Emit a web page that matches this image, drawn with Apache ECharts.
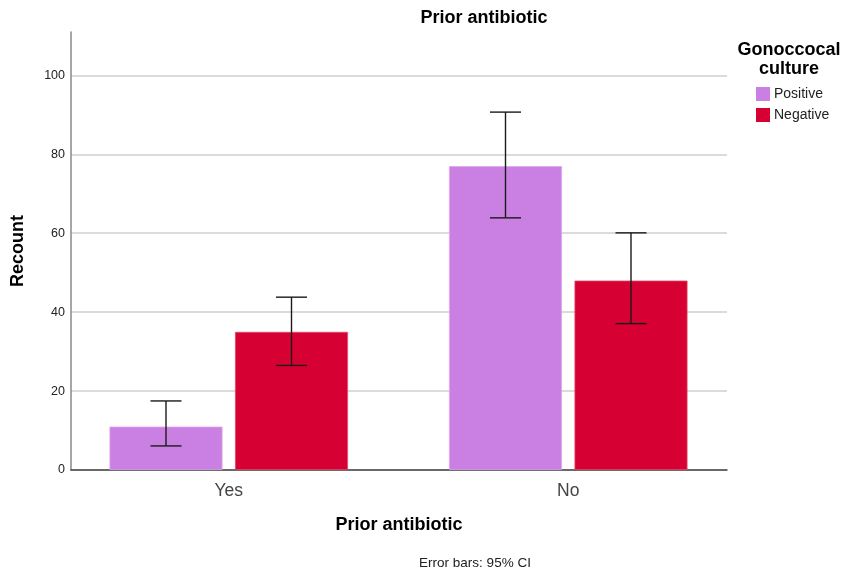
<!DOCTYPE html>
<html>
<head>
<meta charset="utf-8">
<script src="https://cdn.jsdelivr.net/npm/echarts@6/dist/echarts.min.js"></script>
<style>
  html, body { margin: 0; padding: 0; background: #fff; }
  #chart { width: 843px; height: 572px; }
</style>
</head>
<body>
<div id="chart"></div>
<script>
// Counts by prior antibiotic use and gonococcal culture result, with 95% CI
const categories = ['Yes', 'No'];
const seriesNames = ['Positive', 'Negative'];
const positiveCounts = [11, 77];
const negativeCounts = [35, 48];
const positiveLow = [6.1, 63.9];
const positiveHigh = [17.5, 90.7];
const negativeLow = [26.5, 37.1];
const negativeHigh = [43.8, 60.1];
const yTicks = [0, 20, 40, 60, 80, 100];

const colors = ['#CA80E2', '#D70032'];
const FONT = 'Liberation Sans, Arial, sans-serif';
const BAR_W = 113;
const BAR_GAP = 12.5;

const chart = echarts.init(document.getElementById('chart'));

function errorBarSeries(lows, highs, side) {
  return {
    type: 'custom',
    xAxisIndex: 1,
    yAxisIndex: 1,
    z: 10,
    data: categories.map((c, i) => [i, lows[i], highs[i]]),
    renderItem: function (params, api) {
      const i = api.value(0);
      const lo = api.coord([i, api.value(1)]);
      const hi = api.coord([i, api.value(2)]);
      const x = lo[0] + side * (BAR_W + BAR_GAP) / 2;
      const hw = 15.5;
      const style = { stroke: '#1a1a1a', lineWidth: 1.4 };
      return {
        type: 'group',
        children: [
          { type: 'line', shape: { x1: x, y1: hi[1], x2: x, y2: lo[1] }, style: style },
          { type: 'line', shape: { x1: x - hw, y1: hi[1], x2: x + hw, y2: hi[1] }, style: style },
          { type: 'line', shape: { x1: x - hw, y1: lo[1], x2: x + hw, y2: lo[1] }, style: style }
        ]
      };
    }
  };
}

chart.setOption({
  animation: false,
  backgroundColor: '#fff',
  title: [
    { text: 'Prior antibiotic', left: 479, top: 4, textAlign: 'center',
      textStyle: { fontFamily: FONT, fontSize: 18, fontWeight: 'bold', color: '#000' } },
    { text: 'Gonoccocal\nculture', left: 784, top: 35, textAlign: 'center',
      textStyle: { fontFamily: FONT, fontSize: 18, fontWeight: 'bold', color: '#000', lineHeight: 19.5 } },
    { text: 'Error bars: 95% CI', left: 470, top: 551, textAlign: 'center',
      textStyle: { fontFamily: FONT, fontSize: 13.5, fontWeight: 'normal', color: '#222' } }
  ],
  legend: {
    data: seriesNames,
    left: 751, top: 82,
    orient: 'vertical',
    itemWidth: 14, itemHeight: 14, itemGap: 7,
    icon: 'rect',
    itemStyle: { borderWidth: 0 },
    textStyle: { fontFamily: FONT, fontSize: 14, color: '#222', padding: [0, 0, 0, -1] }
  },
  grid: [
    { left: 71, right: 116, top: 32, bottom: 102 },
    { left: 59, right: 105, top: 32, bottom: 102 }
  ],
  xAxis: [
    { type: 'category', gridIndex: 0, data: categories,
      axisLine: { lineStyle: { color: '#444', width: 1.5 } },
      axisTick: { show: false }, axisLabel: { show: false },
      name: 'Prior antibiotic', nameLocation: 'middle', nameGap: 46,
      nameTextStyle: { fontFamily: FONT, fontSize: 18, fontWeight: 'bold', color: '#000' }
    },
    { type: 'category', gridIndex: 1, data: categories,
      axisLine: { show: false }, axisTick: { show: false },
      axisLabel: { fontFamily: FONT, fontSize: 17.5, color: '#444', margin: 12 }
    }
  ],
  yAxis: [
    { type: 'value', gridIndex: 0, min: 0, max: 111, interval: 20,
      axisLine: { show: true, lineStyle: { color: '#888', width: 1.5 } },
      axisTick: { show: false },
      axisLabel: { fontFamily: FONT, fontSize: 12.5, color: '#222', margin: 6,
        showMaxLabel: false,
        formatter: v => (yTicks.includes(v) ? String(v) : '') },
      splitLine: { showMaxLine: false, lineStyle: { color: '#cfcfcf', width: 1.5 } },
      name: 'Recount', nameLocation: 'middle', nameGap: 44, nameRotate: 90,
      nameTextStyle: { fontFamily: FONT, fontSize: 18, fontWeight: 'bold', color: '#000' }
    },
    { type: 'value', gridIndex: 1, min: 0, max: 111, show: false }
  ],
  series: [
    { name: seriesNames[0], type: 'bar', xAxisIndex: 1, yAxisIndex: 1,
      data: positiveCounts, barWidth: BAR_W, barGap: (BAR_GAP / BAR_W * 100) + '%',
      itemStyle: { color: colors[0], borderColor: '#dca6ec', borderWidth: 0.8 } },
    { name: seriesNames[1], type: 'bar', xAxisIndex: 1, yAxisIndex: 1,
      data: negativeCounts, barWidth: BAR_W,
      itemStyle: { color: colors[1], borderColor: '#e04a6a', borderWidth: 0.8 } },
    errorBarSeries(positiveLow, positiveHigh, -1),
    errorBarSeries(negativeLow, negativeHigh, 1)
  ]
});
</script>
</body>
</html>
